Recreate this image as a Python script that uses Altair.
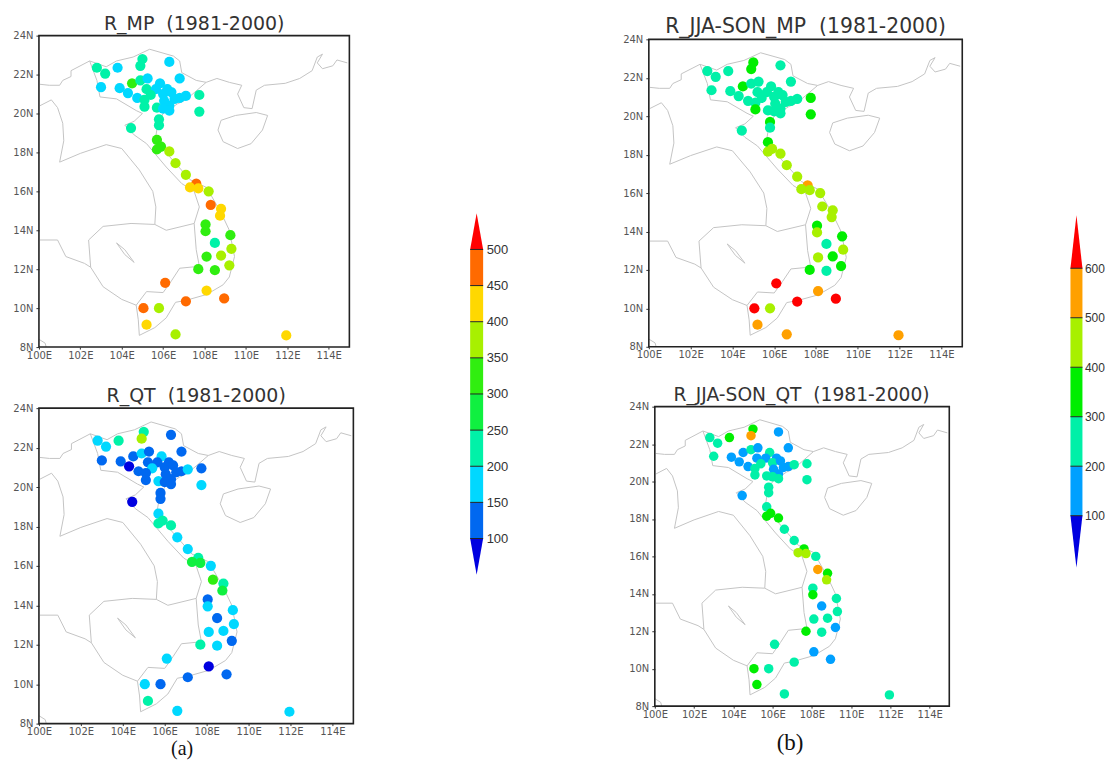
import altair as alt
import pandas as pd

lons = [102.8,103.2,103.8,105.0,104.9,106.3,106.8,103.0,103.9,104.5,104.3,104.75,104.9,105.25,105.2,105.85,105.65,105.4,105.1,105.1,105.7,106.2,106.0,106.4,106.05,106.55,106.3,106.0,106.3,106.8,107.1,107.75,107.75,105.8,105.8,104.45,105.7,105.9,105.7,106.3,106.6,107.1,107.6,107.3,107.7,108.2,108.3,108.8,108.75,108.05,108.05,109.25,108.5,109.3,108.1,108.8,109.2,107.7,108.5,106.1,108.1,108.95,107.1,105.05,105.8,105.2,106.6,111.95]
lats = [22.35,22.05,22.35,22.8,22.45,22.65,21.8,21.35,21.3,21.55,21.05,20.8,21.7,21.8,21.25,21.55,21.25,20.95,20.7,20.35,20.3,21.25,21.0,21.1,20.65,20.75,20.4,20.25,20.15,20.8,20.9,20.95,20.1,19.7,19.4,19.25,18.65,18.3,18.15,18.05,17.45,16.85,16.4,16.2,16.15,16.0,15.3,15.1,14.75,14.3,13.95,13.75,13.35,13.05,12.65,12.7,12.2,12.0,11.95,11.3,10.9,10.5,10.35,10.0,10.0,9.15,8.65,8.6]
r_mp = [225,225,175,225,225,175,175,175,175,325,175,175,225,175,225,175,175,225,225,225,225,175,175,175,175,175,175,175,175,175,175,225,225,225,225,225,325,325,325,375,375,375,475,425,425,375,475,425,425,325,325,325,225,375,325,375,375,325,325,475,425,475,475,475,375,425,375,425]
r_qt = [175,175,225,225,375,125,125,125,125,125,75,125,175,125,125,175,125,175,125,125,175,125,125,125,125,125,125,125,125,125,175,125,175,125,125,75,175,225,225,225,175,175,225,275,275,175,325,225,275,125,175,175,125,175,175,175,125,225,175,175,75,125,125,175,125,225,175,175]
j_mp = [250,250,250,350,350,250,250,250,250,350,250,250,250,250,250,250,250,250,250,350,250,250,250,250,250,250,250,250,250,250,250,350,350,350,250,250,350,450,450,450,450,450,550,450,450,450,450,450,450,350,450,350,250,450,450,350,350,350,250,650,550,650,650,650,450,550,550,550]
j_qt = [250,250,350,350,550,150,150,250,150,150,150,150,250,150,150,250,150,250,250,250,250,150,250,150,150,150,150,250,250,150,250,250,250,250,250,150,250,350,350,350,250,250,350,450,450,250,550,350,450,250,350,250,150,250,250,250,150,350,250,250,150,150,250,350,250,350,250,250]

seg_china = [(108.08,21.6),(108.6,21.8),(109.2,21.6),(109.8,21.45),(109.6,21.0),(109.9,20.3),(110.3,20.25),(110.5,21.2),(110.9,21.45),(111.9,21.55),(112.6,21.8),(113.2,22.2),(113.45,22.9),(113.7,23.05),(113.45,22.6),(113.7,22.3),(114.2,22.45),(114.4,22.75),(114.9,22.6)]
seg_hainan = [(108.65,19.15),(108.8,19.65),(109.5,19.9),(110.5,20.05),(111.05,19.9),(110.8,19.15),(110.25,18.45),(109.6,18.2),(108.9,18.55),(108.65,19.15)]
seg_north = [(108.08,21.6),(107.6,21.7),(106.9,22.1),(106.8,22.7),(106.5,22.95),(105.35,23.3),(104.55,22.9),(103.75,22.7),(103.25,22.4),(102.45,22.7),(101.55,22.2),(101.55,21.9),(101.15,21.7),(101.0,21.45),(100.5,21.45),(100.05,21.5)]
seg_laos_w = [(100.05,20.4),(100.6,20.7),(100.9,20.3),(101.15,19.5),(101.2,18.6),(101.0,17.5),(102.0,17.95),(103.25,18.4),(104.0,18.2),(104.85,17.1),(105.5,16.0),(105.65,15.2),(105.6,14.3)]
seg_cambodia = [(105.6,14.3),(104.45,14.35),(103.1,14.2),(102.4,13.5),(102.5,12.1),(103.1,11.1),(104.0,10.45),(104.7,10.15)]
seg_coast = [(104.7,10.15),(104.8,9.4),(104.85,8.6),(105.6,9.0),(106.15,9.5),(106.6,10.3),(107.1,10.4),(108.1,10.7),(108.9,11.2),(109.2,11.6),(109.45,12.65),(109.2,14.0),(108.8,14.9),(108.1,16.2),(107.3,16.6),(106.3,17.8),(105.65,18.85),(105.75,19.5),(106.0,20.0),(106.7,20.5),(107.1,20.7),(108.08,21.6)]
seg_viet_laos = [(102.45,22.7),(102.8,21.7),(102.95,20.85),(103.75,20.75),(104.7,20.15),(105.0,20.0),(104.6,19.6),(104.15,19.4),(104.6,18.9),(105.2,18.45),(106.15,17.25),(106.9,16.4),(107.5,16.0),(107.75,15.2),(107.5,14.35),(107.6,13.0),(107.75,12.15),(106.8,12.05),(106.4,11.4),(106.0,10.8),(105.2,10.85),(104.7,10.15)]
seg_laos_cam = [(107.5,14.35),(106.15,14.0),(105.6,14.3)]
seg_thai = [(100.05,13.5),(100.9,13.5),(101.3,12.65),(102.2,12.3),(102.5,12.1)]
seg_lake = [(103.75,13.35),(104.15,12.75),(104.6,12.35),(104.15,13.0),(103.75,13.35)]
seg_corner = [(100.0,8.4),(100.3,8.2),(100.35,8.0)]
segments = [seg_china, seg_hainan, seg_north, seg_laos_w, seg_cambodia, seg_coast, seg_viet_laos, seg_laos_cam, seg_thai, seg_lake, seg_corner]

lon_ticks = list(range(100, 115, 2))
lat_ticks = list(range(8, 25, 2))

a_thr = [100,150,200,250,300,350,400,450,500]
a_col = ['#0000e0','#0068f0','#00d8ff','#00f2a8','#10f040','#30ee10','#a8f000','#ffd800','#ff6a00','#ff0000']
b_thr = [100,200,300,400,500,600]
b_col = ['#0000e0','#00a0ff','#00f0a8','#00ee00','#a8f000','#ffa000','#ff0000']

outline = pd.DataFrame([{'seg': s, 'i': i, 'lon': p[0], 'lat': p[1]} for s, seg in enumerate(segments) for i, p in enumerate(seg)])
stations = pd.DataFrame({'lon': lons, 'lat': lats, 'mp': r_mp, 'qt': r_qt, 'jmp': j_mp, 'jqt': j_qt})
frame_df = pd.DataFrame({'x0': [100], 'x1': [115], 'y0': [8], 'y1': [24]})

AXC = '#555555'

def panel(field, title, w, h, thr, col, tfs=18, x_offset=0, view_w=None, caption=None, cap_x=None, cap_pad=8, cap_fs=23, size=105, tdx=0):
    vw = view_w or w
    xs = alt.Scale(domain=[100, 115], range=[x_offset, x_offset + w], nice=False, zero=False, padding=0)
    ys = alt.Scale(domain=[8, 24], range=[h, 0], nice=False, zero=False, padding=0)
    xa = dict(values=lon_ticks, labelExpr="datum.value + 'E'", grid=False, domain=False, tickSize=2,
              tickColor='#333333', labelPadding=1, labelFont='DejaVu Sans', labelFontSize=10, labelColor=AXC,
              labelOverlap=False, labelFlush=False)
    if caption:
        xa.update(titleFont='Liberation Serif', titleFontSize=cap_fs, titleFontWeight='normal',
                  titleColor='#111111', titlePadding=cap_pad, titleX=cap_x)
    x_axis = alt.Axis(**xa)
    y_axis = alt.Axis(values=lat_ticks, labelExpr="datum.value + 'N'", grid=False, domain=False, tickSize=3,
                      tickColor='#333333', labelPadding=3, labelFont='DejaVu Sans', labelFontSize=10,
                      labelColor=AXC, labelOverlap=False, offset=-x_offset)
    def X(f):
        return alt.X(f, scale=xs, axis=x_axis, title=caption if caption else None)
    def Y(f):
        return alt.Y(f, scale=ys, axis=y_axis, title=None)
    lines = alt.Chart(outline).mark_line(color='#c4c4c4', strokeWidth=1).encode(x=X('lon:Q'), y=Y('lat:Q'), detail='seg:N', order='i:Q')
    dots = alt.Chart(stations).mark_point(filled=True, opacity=1, size=size, shape='circle').encode(
        x=X('lon:Q'), y=Y('lat:Q'),
        color=alt.Color(f'{field}:Q', scale=alt.Scale(type='threshold', domain=thr, range=col), legend=None))
    frame = alt.Chart(frame_df).mark_rect(fillOpacity=0, stroke='#222222', strokeWidth=1.6).encode(
        x=X('x0:Q'), x2='x1:Q', y=Y('y0:Q'), y2='y1:Q')
    return alt.layer(lines, frame, dots).properties(
        width=vw, height=h,
        title=alt.TitleParams(title, font='DejaVu Sans', fontSize=tfs, fontWeight='normal', color='#333333',
                              offset=-3, anchor='middle', frame='group', dx=tdx))

def colorbar(thr, col, tip_lo, tip_hi, ticks, lines, top, bottom, h, w=13, font='Liberation Sans', fs=13, lp=3):
    rects = pd.DataFrame({'lo': thr[:-1], 'hi': thr[1:], 'c': col[1:-1], 'x0': 0, 'x1': 1})
    up = pd.DataFrame({'v': [thr[-1], tip_hi], 'a': [0, .5], 'b': [1, .5]})
    dn = pd.DataFrame({'v': [thr[0], tip_lo], 'a': [0, .5], 'b': [1, .5]})
    xs = alt.Scale(domain=[0, 1], range=[0, w], padding=0)
    ys = alt.Scale(domain=[tip_lo, tip_hi], range=[bottom, top], nice=False, zero=False, padding=0)
    y_axis = alt.Axis(orient='right', values=ticks, domain=False, ticks=False, grid=False, labelPadding=lp,
                      labelFont=font, labelFontSize=fs, labelColor='#333333', format='d')
    def Y(f):
        return alt.Y(f, scale=ys, title=None, axis=y_axis)
    def X(f):
        return alt.X(f, scale=xs, axis=None)
    bars = alt.Chart(rects).mark_rect().encode(
        x=X('x0:Q'), x2='x1:Q', y=Y('lo:Q'), y2='hi:Q', color=alt.Color('c:N', scale=None))
    t1 = alt.Chart(up).mark_area(orient='horizontal', color=col[-1]).encode(y=Y('v:Q'), x=X('a:Q'), x2='b:Q')
    t2 = alt.Chart(dn).mark_area(orient='horizontal', color=col[0]).encode(y=Y('v:Q'), x=X('a:Q'), x2='b:Q')
    rules = alt.Chart(pd.DataFrame({'v': lines, 'x0': 0, 'x1': 1})).mark_rule(color='#222222', strokeWidth=1).encode(
        y=Y('v:Q'), x=X('x0:Q'), x2='x1:Q')
    return alt.layer(bars, t1, t2, rules).properties(width=w, height=h)

NB = '\u00a0\u00a0'
p1 = panel('mp', f'R_MP{NB}(1981-2000)', 311, 312, a_thr, a_col, tfs=19)
p3 = panel('qt', f'R_QT{NB}(1981-2000)', 315, 316, a_thr, a_col, tfs=19, caption='(a)', cap_x=143, cap_pad=2, cap_fs=20)
p2 = panel('jmp', f'R_JJA-SON_MP{NB}(1981-2000)', 314, 308, b_thr, b_col, tfs=20.4)
p4 = panel('jqt', f'R_JJA-SON_QT{NB}(1981-2000)', 295, 300, b_thr, b_col, tfs=18.7, x_offset=6, view_w=314, caption='(b)', cap_x=141, cap_pad=12, size=90, tdx=-4)

cb1 = colorbar(a_thr, a_col, 50, 550, a_thr, a_thr, 178, 540, 545)
cb2 = colorbar(b_thr, b_col, -5, 707, b_thr, b_thr, 180, 533, 545, w=12, fs=12, lp=2)

spacer = alt.Chart(frame_df).mark_point(opacity=0).encode(x=alt.value(0), y=alt.value(0)).properties(width=1, height=1)

col1 = alt.vconcat(p1, p3, spacing=27.2).resolve_scale(color='independent')
col2 = alt.vconcat(spacer, alt.vconcat(p2, p4, spacing=26).resolve_scale(color='independent'), spacing=-22.3).resolve_scale(color='independent')

chart = alt.hconcat(
    alt.hconcat(col1, cb1, spacing=115).resolve_scale(color='independent'),
    alt.hconcat(col2, cb2, spacing=106.4).resolve_scale(color='independent'),
    spacing=114,
).resolve_scale(color='independent').properties(padding={'left': 4, 'top': 6, 'right': 0, 'bottom': 0}).configure_view(strokeWidth=0)

chart.save("out.html", embed_options={"renderer": "svg", "actions": False})
